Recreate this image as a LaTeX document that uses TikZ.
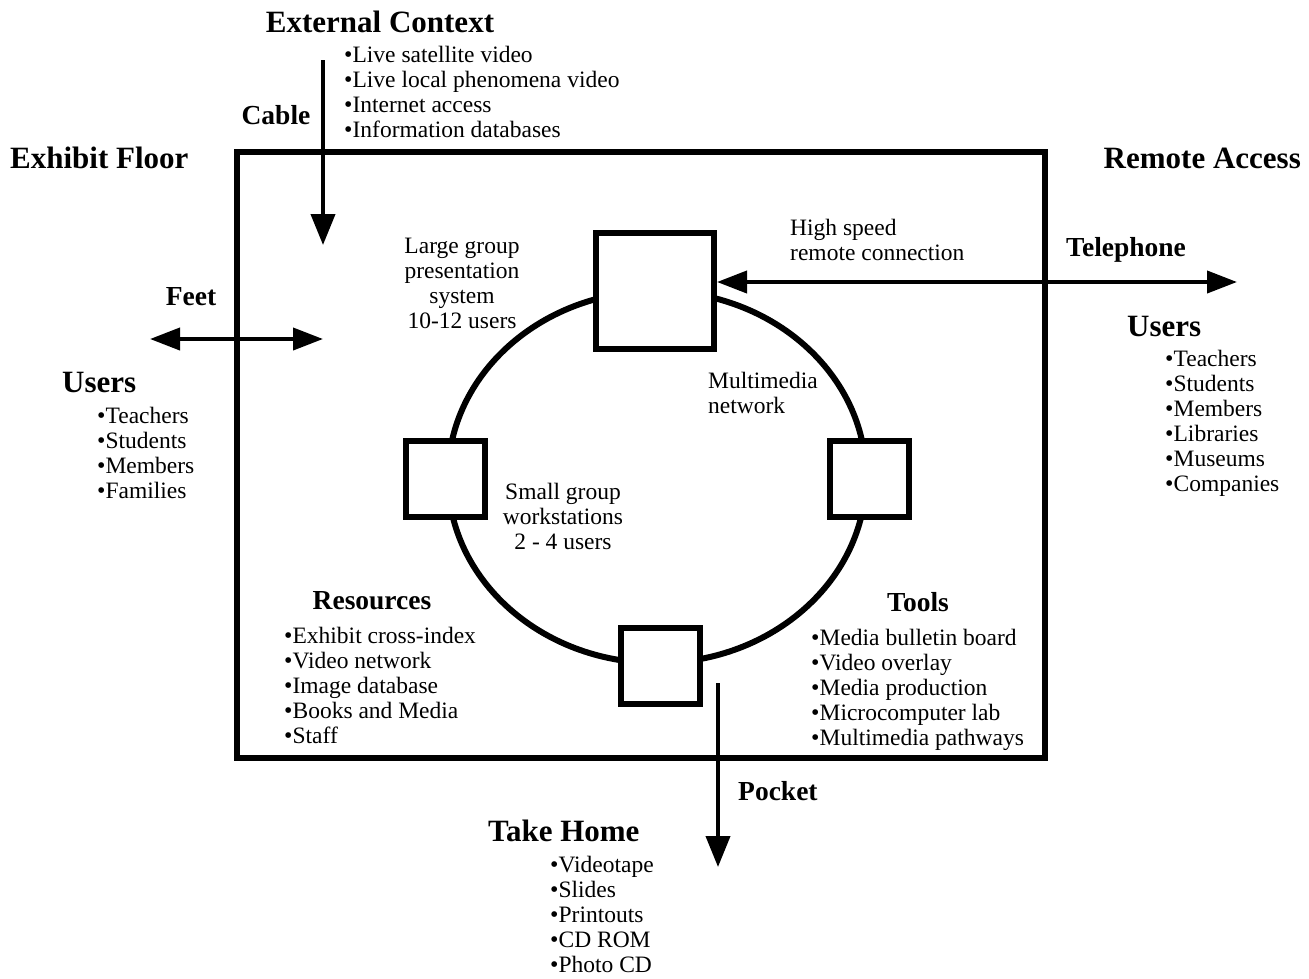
\documentclass[tikz,border=0pt]{standalone}
\usepackage{fontspec}
\setmainfont{Liberation Serif}
\usetikzlibrary{arrows.meta}
\newcommand{\mybul}{{\fontsize{24}{24}\selectfont\textbullet}}
\begin{document}
\begin{tikzpicture}[x=1pt,y=-1pt,
  big/.style={font=\fontsize{31}{34}\selectfont\bfseries, inner sep=0pt},
  mid/.style={font=\fontsize{27.5}{30}\selectfont\bfseries, inner sep=0pt},
  body/.style={font=\fontsize{23.5}{25}\selectfont, inner sep=0pt, align=left},
  bodyc/.style={font=\fontsize{23.5}{25}\selectfont, inner sep=0pt, align=center},
  bigbox/.style={draw, line width=6pt, fill=white, minimum width=118, minimum height=116, inner sep=0pt},
  smallbox/.style={draw, line width=6pt, fill=white, minimum width=79, minimum height=76, inner sep=0pt},
  arr/.style={line width=4pt, -{Triangle[length=31pt, width=24pt]}},
  dblarr/.style={line width=4pt, {Triangle[length=30pt, width=22pt]}-{Triangle[length=30pt, width=22pt]}}
]
\useasboundingbox[fill=white] (0,0) rectangle (1309,978);

% exhibit floor frame
\draw[line width=6pt] (237,152) rectangle (1045,758);

% multimedia network ring
\draw[line width=6pt] (657,477) ellipse [x radius=209, y radius=186];

% stations
\node[bigbox] (top) at (655,291) {};
\node[smallbox] (left) at (445,479) {};
\node[smallbox] (right) at (869,479) {};
\node[smallbox] (bottom) at (660,666) {};

% connectors
\coordinate (cabletop) at (323,60);
\coordinate (cableend) at (323,245);
\draw[arr] (cabletop) -- (cableend);

\coordinate (feetL) at (150,339);
\coordinate (feetR) at (323,339);
\draw[dblarr] (feetL) -- (feetR);

\coordinate (tel) at (1237,282);
\draw[dblarr] (tel -| top.east) -- (tel);

\coordinate (pockettop) at (718,683);
\coordinate (pocketend) at (718,867);
\draw[arr] (pockettop) -- (pocketend);

% headings
\node[big, anchor=base] (ext) at (380,32) {External Context};
\node[mid, anchor=base] (cable) at (276,124) {Cable};
\node[big, anchor=base west] (floor) at (10,168) {Exhibit Floor};
\node[big, anchor=base east] (remote) at (1301,168) {Remote Access};
\node[mid, anchor=base] (feet) at (191,305) {Feet};
\node[big, anchor=base west] (usersL) at (62,392) {Users};
\node[mid, anchor=base west] (phone) at (1066,256) {Telephone};
\node[big, anchor=base west] (usersR) at (1127,336) {Users};
\node[mid, anchor=base] (res) at (372,609) {Resources};
\node[mid, anchor=base] (tools) at (918,611) {Tools};
\node[mid, anchor=base west] (pocket) at (738,800) {Pocket};
\node[big, anchor=base west] (home) at (488,841) {Take Home};

% lists
\node[body, anchor=north west] (extlist) at (344,46)
  {\mybul Live satellite video\\ \mybul Live local phenomena video\\ \mybul Internet access\\ \mybul Information databases};
\node[body, anchor=north west] (usersLlist) at (97,407)
  {\mybul Teachers\\ \mybul Students\\ \mybul Members\\ \mybul Families};
\node[body, anchor=north west] (usersRlist) at (1165,350)
  {\mybul Teachers\\ \mybul Students\\ \mybul Members\\ \mybul Libraries\\ \mybul Museums\\ \mybul Companies};
\node[body, anchor=north west] (reslist) at (284,627)
  {\mybul Exhibit cross-index\\ \mybul Video network\\ \mybul Image database\\ \mybul Books and Media\\ \mybul Staff};
\node[body, anchor=north west] (toollist) at (811,629)
  {\mybul Media bulletin board\\ \mybul Video overlay\\ \mybul Media production\\ \mybul Microcomputer lab\\ \mybul Multimedia pathways};
\node[body, anchor=north west] (homelist) at (550,856)
  {\mybul Videotape\\ \mybul Slides\\ \mybul Printouts\\ \mybul CD ROM\\ \mybul Photo CD};

% labels
\node[bodyc, anchor=north] (large) at (462,238) {Large group\\ presentation\\ system\\ 10-12 users};
\node[bodyc, anchor=north] (small) at (563,483) {Small group\\ workstations\\ 2 - 4 users};
\node[body, anchor=north west] (mm) at (708,372) {Multimedia\\ network};
\node[body, anchor=north west] (hs) at (790,219) {High speed\\ remote connection};
\end{tikzpicture}
\end{document}
